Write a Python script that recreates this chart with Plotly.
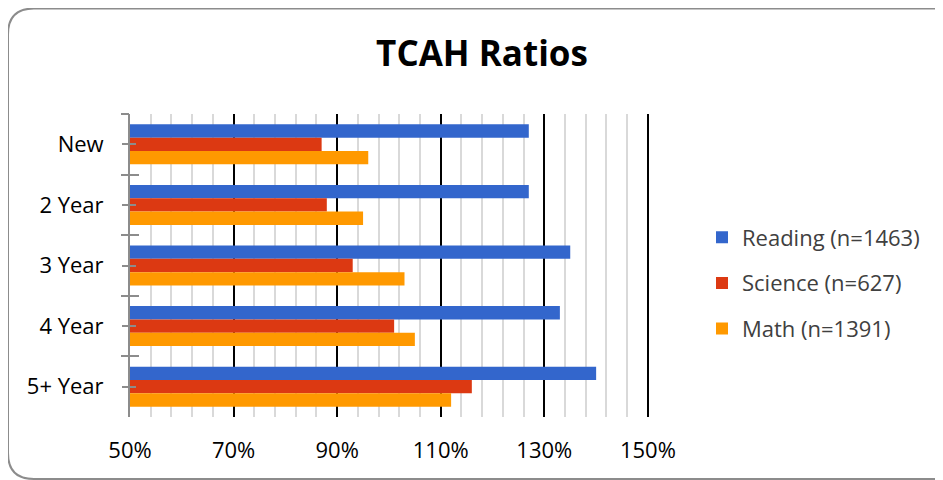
"""TCAH ratios by years of experience - grouped horizontal bar chart."""

import plotly.graph_objects as go

# ── data ─────────────────────────────────────────────
categories = ["New", "2 Year", "3 Year", "4 Year", "5+ Year"]
reading = [127, 127, 135, 133, 140]
science = [87, 88, 93, 101, 116]
math = [96, 95, 103, 105, 112]

series_names = ["Reading (n=1463)", "Science (n=627)", "Math (n=1391)"]
x_ticks = [50, 70, 90, 110, 130, 150]

# ── style ────────────────────────────────────────────
COLORS = ["#3366CC", "#DC3912", "#FF9900"]
FONT = "Open Sans, Noto Sans, sans-serif"
AXIS_GRAY = "#8c8c8c"

# the page puts the figure 8px in from the top-left corner
W, H = 935, 472
ML, MT = 122, 106
PW, PH = 520, 303
MR, MB = W - ML - PW, H - MT - PH


def to_paper(px, py):
    """Pixel position in the figure -> paper coordinates."""
    return (px - ML) / PW, (H - MB - py) / PH


def rounded_box(x0, y0, x1, y1, r):
    """SVG path of a rounded rectangle given in pixels, returned in paper units."""
    pts = [
        ("M", [(x0 + r, y0)]),
        ("L", [(x1 - r, y0)]),
        ("Q", [(x1, y0), (x1, y0 + r)]),
        ("L", [(x1, y1 - r)]),
        ("Q", [(x1, y1), (x1 - r, y1)]),
        ("L", [(x0 + r, y1)]),
        ("Q", [(x0, y1), (x0, y1 - r)]),
        ("L", [(x0, y0 + r)]),
        ("Q", [(x0, y0), (x0 + r, y0)]),
    ]
    parts = []
    for cmd, coords in pts:
        txt = " ".join("%.5f,%.5f" % to_paper(*c) for c in coords)
        parts.append(f"{cmd} {txt}")
    return " ".join(parts) + " Z"


fig = go.Figure()

for name, vals, col in zip(series_names, [reading, science, math], COLORS):
    fig.add_trace(go.Bar(
        y=categories, x=vals, name=name, orientation="h",
        marker=dict(color=col, line=dict(width=0)),
        legendgroup=name,
    ))

# invisible helper traces so the overlay axes (crossing tick marks) get drawn
for ax in ["y2", "y3", "y4"]:
    fig.add_trace(go.Scatter(
        y=categories, x=[None] * len(categories), yaxis=ax, mode="markers",
        marker=dict(opacity=0), showlegend=False, hoverinfo="skip",
    ))

cat_axis = dict(
    type="category", categoryorder="array", categoryarray=categories,
    range=[len(categories) - 0.5, -0.5], showgrid=False, zeroline=False,
    tickcolor=AXIS_GRAY, tickwidth=2,
)

fig.update_layout(
    width=W, height=H,
    margin=dict(l=ML, r=MR, t=MT, b=MB),
    paper_bgcolor="white", plot_bgcolor="white",
    font=dict(family=FONT, size=22, color="#000000"),
    title=dict(
        text="<b>TCAH Ratios</b>", font=dict(size=35, color="#000000"),
        x=474 / W, xref="container", xanchor="center",
        y=1 - 46 / H, yref="container", yanchor="middle",
    ),
    barmode="group", bargap=0.34, bargroupgap=0,
    xaxis=dict(
        # small overshoot so plotly keeps the 150% grid line at the edge
        range=[50, 150.4], tickmode="array", tickvals=x_ticks,
        ticktext=[f"{v}%" for v in x_ticks],
        showgrid=True, gridcolor="#000000", gridwidth=2,
        minor=dict(dtick=4, tick0=50, showgrid=True, gridcolor="#d9d9d9", gridwidth=2),
        showline=False, zeroline=False, ticks="", ticklabelstandoff=18,
    ),
    yaxis=dict(
        **cat_axis, ticks="outside", tickson="labels", ticklen=6,
        showline=True, linecolor=AXIS_GRAY, linewidth=2, ticklabelstandoff=14,
    ),
    yaxis2=dict(
        **cat_axis, overlaying="y", ticks="outside", tickson="boundaries",
        ticklen=8, showticklabels=False, showline=False,
    ),
    yaxis3=dict(
        **cat_axis, overlaying="y", ticks="inside", tickson="boundaries",
        ticklen=9, showticklabels=False, showline=False,
    ),
    yaxis4=dict(
        **cat_axis, overlaying="y", ticks="inside", tickson="labels",
        ticklen=6, showticklabels=False, showline=False,
    ),
    legend=dict(
        x=to_paper(694, 0)[0], xanchor="left",
        y=to_paper(0, 275)[1], yanchor="middle",
        font=dict(size=22, color="#404040"),
        traceorder="grouped", tracegroupgap=14,
        bgcolor="rgba(0,0,0,0)", itemwidth=30,
    ),
    showlegend=True,
)

# chart frame with rounded corners (runs off the right and bottom edges)
fig.add_shape(
    type="path", xref="paper", yref="paper",
    path=rounded_box(0, 0.5, 952, 471, 26),
    line=dict(color=AXIS_GRAY, width=2), fillcolor="rgba(0,0,0,0)",
    layer="below",
)

fig.write_html("out.html")
